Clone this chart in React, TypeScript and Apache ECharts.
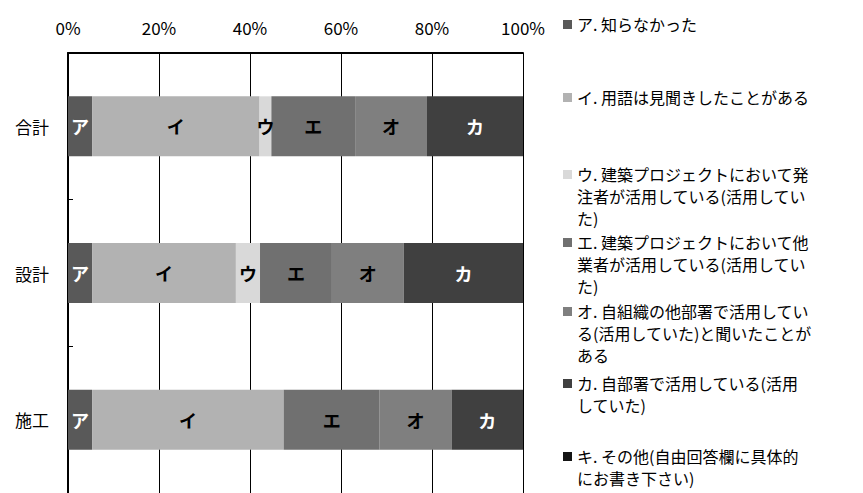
import React, { useEffect, useRef } from "react";
import * as echarts from "echarts";

const categories = ["合計", "設計", "施工"];
const shortLabels = ["ア", "イ", "ウ", "エ", "オ", "カ", "キ"];
const legendNames = [
  "ア. 知らなかった",
  "イ. 用語は見聞きしたことがある",
  "ウ. 建築プロジェクトにおいて発\n注者が活用している(活用してい\nた)",
  "エ. 建築プロジェクトにおいて他\n業者が活用している(活用してい\nた)",
  "オ. 自組織の他部署で活用してい\nる(活用していた)と聞いたことが\nある",
  "カ. 自部署で活用している(活用\nしていた)",
  "キ. その他(自由回答欄に具体的\nにお書き下さい)",
];
const xTicks = [0, 20, 40, 60, 80, 100];

// percentages per category (合計, 設計, 施工)
const valuesA = [5.3, 5.3, 5.3];
const valuesI = [36.8, 31.6, 42.1];
const valuesU = [2.6, 5.3, 0];
const valuesE = [18.4, 15.8, 21.1];
const valuesO = [15.8, 15.8, 15.8];
const valuesKa = [21.1, 26.3, 15.8];
const valuesKi = [0, 0, 0];

const seriesValues = [valuesA, valuesI, valuesU, valuesE, valuesO, valuesKa, valuesKi];
const colors = ["#595959", "#b2b2b2", "#d9d9d9", "#707070", "#7f7f7f", "#404040", "#141414"];
const labelColors = ["#ffffff", "#000000", "#000000", "#000000", "#000000", "#ffffff", "#ffffff"];
const legendTops = [13, 86, 163, 231, 300, 372, 445];

const FONT = "'Noto Sans CJK JP', 'Noto Sans', sans-serif";

export default function App() {
  const ref = useRef<HTMLDivElement>(null);
  useEffect(() => {
    if (!ref.current) return;
    const chart = echarts.init(ref.current, undefined, { renderer: "svg" });
    const series = seriesValues.map((vals, i) => ({
      name: legendNames[i],
      type: "bar",
      stack: "total",
      barWidth: 60,
      data: vals,
      itemStyle: { color: colors[i] },
      label: {
        show: true,
        position: "inside",
        formatter: (p: any) => (p.value > 0 ? shortLabels[i] : ""),
        color: labelColors[i],
        fontWeight: "bold",
        fontSize: 18,
        fontFamily: FONT,
      },
    }));
    const graphic: any[] = [];
    legendNames.forEach((name, i) => {
      graphic.push({
        type: "rect",
        left: 563,
        top: legendTops[i] + 7,
        shape: { width: 9, height: 9 },
        style: { fill: colors[i] },
      });
      graphic.push({
        type: "text",
        left: 577,
        top: legendTops[i],
        style: {
          text: name,
          fill: "#000",
          font: `16px ${FONT}`,
          lineHeight: 22,
        },
      });
    });
    chart.setOption({
      animation: false,
      textStyle: { fontFamily: FONT },
      grid: { left: 68, top: 53, width: 455, height: 446, containLabel: false },
      xAxis: {
        type: "value",
        position: "top",
        min: xTicks[0],
        max: xTicks[xTicks.length - 1],
        interval: 20,
        axisLine: { show: true, lineStyle: { color: "#000", width: 2 } },
        axisTick: { show: false },
        splitLine: { show: true, lineStyle: { color: "#000", width: 1 } },
        axisLabel: {
          formatter: "{value}%",
          color: "#000",
          fontSize: 17,
          margin: 17,
          fontFamily: FONT,
        },
      },
      yAxis: {
        type: "category",
        data: categories,
        inverse: true,
        axisLine: { show: true, lineStyle: { color: "#000", width: 2 } },
        axisTick: { show: true, inside: true, length: 5, lineStyle: { color: "#000" } },
        axisLabel: { color: "#000", fontSize: 17, margin: 19, fontFamily: FONT },
      },
      series,
      graphic,
    });
    return () => chart.dispose();
  }, []);
  return (
    <div
      ref={ref}
      style={{ position: "fixed", left: 0, top: 0, width: 863, height: 493, background: "#fff" }}
    />
  );
}
